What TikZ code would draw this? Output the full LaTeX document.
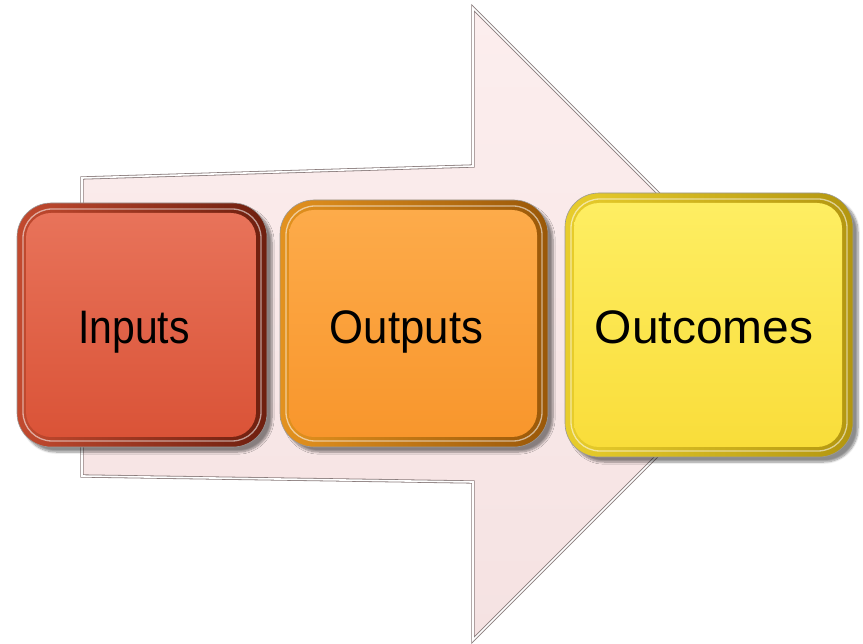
\documentclass[tikz,border=0pt]{standalone}
\usepackage{fontspec}
\setmainfont{Liberation Sans}
\usetikzlibrary{shadows.blur}
\definecolor{arrowTop}{HTML}{FCEEEE}
\definecolor{arrowBot}{HTML}{F5E2E2}
\definecolor{arrowEdge}{HTML}{8A7C7C}
\definecolor{inRingL}{HTML}{C24A2F}
\definecolor{inRingR}{HTML}{6E1F0F}
\definecolor{inTop}{HTML}{E8735A}
\definecolor{inBot}{HTML}{DA5337}
\definecolor{outRingL}{HTML}{E3921F}
\definecolor{outRingR}{HTML}{9A5809}
\definecolor{outTop}{HTML}{FDAB4A}
\definecolor{outBot}{HTML}{F8962C}
\definecolor{ocRingL}{HTML}{E8CD2C}
\definecolor{ocRingR}{HTML}{B39610}
\definecolor{ocTop}{HTML}{FEEE62}
\definecolor{ocBot}{HTML}{F9DD3A}
\tikzset{
  arrowbody/.style={draw=arrowEdge, double=white, double distance=1.6pt, line width=0.8pt, top color=arrowTop, bottom color=arrowBot},
  boxouter/.style={rectangle, rounded corners=34pt, inner sep=0pt, draw=black!40, line width=0.6pt,
    blur shadow={shadow xshift=5pt, shadow yshift=-5pt, shadow blur steps=8, shadow opacity=45}},
  boxhl/.style={rectangle, rounded corners=29pt, inner sep=0pt, draw=white, draw opacity=0.55, line width=1.3pt},
  boxinner/.style={rectangle, rounded corners=25pt, inner sep=0pt},
  lbl/.style={anchor=base, inner sep=0pt, font=\fontsize{47}{50}\selectfont, text=black}
}
\begin{document}
\begin{tikzpicture}[x=1pt,y=-1pt]
\useasboundingbox (0,0) rectangle (863,644);
% background arrow
\path[arrowbody] (82,178) -- (473,166) -- (473,8) -- (789,324) -- (473,640) -- (473,482) -- (82,476) -- cycle;
% Inputs
\node[boxouter, minimum width=250pt, minimum height=244pt, left color=inRingL, right color=inRingR] (inO) at (142,325) {};
\node[boxhl, minimum width=238pt, minimum height=232pt] (inH) at (142,325) {};
\node[boxinner, minimum width=230pt, minimum height=224pt, top color=inTop, bottom color=inBot] (inI) at (141,325) {};
\node[lbl] (inT) at (134,344) {\scalebox{0.87}[1]{Inputs}};
% Outputs
\node[boxouter, minimum width=268pt, minimum height=247pt, left color=outRingL, right color=outRingR] (outO) at (414,323.5) {};
\node[boxhl, minimum width=256pt, minimum height=235pt] (outH) at (414,323.5) {};
\node[boxinner, minimum width=248pt, minimum height=227pt, top color=outTop, bottom color=outBot] (outI) at (413,323.5) {};
\node[lbl] (outT) at (406.5,344) {\scalebox{0.93}[1]{Outputs}};
% Outcomes
\node[boxouter, minimum width=288pt, minimum height=264pt, left color=ocRingL, right color=ocRingR] (ocO) at (709,325) {};
\node[boxhl, minimum width=276pt, minimum height=252pt] (ocH) at (709,325) {};
\node[boxinner, minimum width=268pt, minimum height=244pt, top color=ocTop, bottom color=ocBot] (ocI) at (708,325) {};
\node[lbl] (ocT) at (704,344) {\scalebox{1.02}[1]{Outcomes}};
\end{tikzpicture}
\end{document}
